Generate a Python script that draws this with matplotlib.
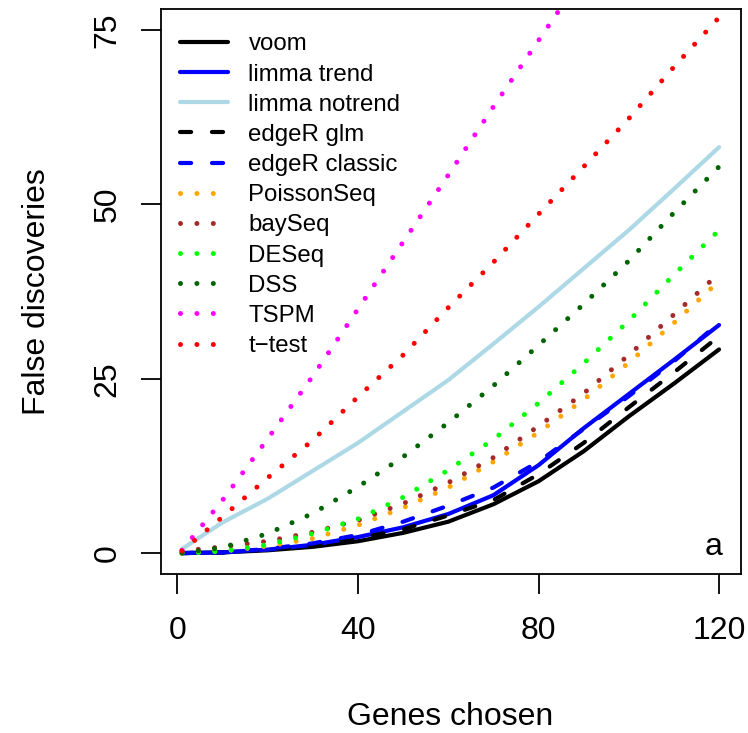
import numpy as np
import matplotlib
matplotlib.use("Agg")
import matplotlib.pyplot as plt

plt.rcParams['font.family'] = ['Liberation Sans', 'DejaVu Sans']
plt.rcParams['lines.scale_dashes'] = False

# number of genes chosen (x) and cumulative false discoveries per method
genes = [1, 10, 20, 30, 40, 50, 60, 70, 80, 90, 100, 110, 120]

voom           = [0.0, 0.1, 0.4, 0.9, 1.7, 2.9, 4.5, 7.0, 10.3, 14.6, 19.6, 24.3, 29.2]
limma_trend    = [0.0, 0.1, 0.5, 1.2, 2.3, 3.7, 5.6, 8.3, 12.6, 17.9, 22.8, 27.7, 32.7]
limma_notrend  = [0.6, 4.4, 7.8, 11.8, 15.8, 20.3, 24.8, 30.0, 35.3, 40.8, 46.3, 52.2, 58.2]
edger_glm      = [0.0, 0.1, 0.5, 1.1, 2.1, 3.4, 5.4, 7.6, 11.3, 15.8, 20.9, 25.9, 31.1]
edger_classic  = [0.0, 0.1, 0.6, 1.4, 2.6, 4.5, 6.8, 9.4, 13.1, 17.8, 22.5, 27.5, 33.0]
poissonseq     = [0.0, 0.3, 1.0, 2.1, 4.0, 6.5, 9.4, 13.1, 17.3, 22.0, 27.3, 33.0, 39.0]
bayseq         = [0.3, 0.9, 1.7, 3.0, 4.7, 7.1, 10.1, 13.7, 18.2, 22.9, 28.4, 34.2, 40.1]
deseq          = [0.0, 0.25, 1.2, 2.8, 4.9, 8.0, 11.9, 16.3, 21.5, 27.2, 33.3, 39.9, 46.3]
dss            = [0.0, 0.8, 2.8, 5.7, 9.5, 13.8, 18.7, 24.0, 29.8, 35.7, 41.9, 48.8, 55.4]
tspm           = [0.4, 7.6, 16.4, 25.4, 35.0, 44.6, 54.2, 64.0, 73.5, 83.0]
ttest          = [0.3, 5.2, 10.8, 16.2, 22.4, 28.4, 35.2, 41.7, 48.6, 55.4, 62.3, 69.7, 76.8]

labels = ["voom", "limma trend", "limma notrend", "edgeR glm", "edgeR classic",
          "PoissonSeq", "baySeq", "DESeq", "DSS", "TSPM", "t\u2212test"]
series = [voom, limma_trend, limma_notrend, edger_glm, edger_classic,
          poissonseq, bayseq, deseq, dss, tspm, ttest]
colors = ["black", "blue", "lightblue", "black", "blue",
          "orange", "brown", "lime", "darkgreen", "magenta", "red"]
kinds = ["solid", "solid", "solid", "dash", "dash",
         "dot", "dot", "dot", "dot", "dot", "dot"]

fig = plt.figure(figsize=(7.48, 7.33), dpi=100)
ax = fig.add_axes([0.2146, 0.2169, 0.7754, 0.7707])

for lab, ys, col, kind in zip(labels, series, colors, kinds):
    xs = genes[:len(ys)]
    if kind == "solid":
        ax.plot(xs, ys, color=col, lw=3.0, solid_capstyle='round',
                solid_joinstyle='round', label=lab)
    elif kind == "dash":
        ax.plot(xs, ys, color=col, lw=3.0, linestyle=(0, (8, 15)),
                dash_capstyle='round', label=lab)
    else:
        ax.plot(xs, ys, color=col, lw=3.6, linestyle=(0, (0.01, 11.8)),
                dash_capstyle='round', label=lab)

ax.set_xlim(1 - 0.04 * 119, 120 + 0.04 * 119)
ax.set_ylim(-3, 78)
ax.set_xticks([0, 40, 80, 120])
ax.set_yticks([0, 25, 50, 75])

for sp in ax.spines.values():
    sp.set_linewidth(1.3)
ax.tick_params(length=14.5, width=1.3, labelsize=23)
ax.tick_params(axis='x', pad=16)
ax.tick_params(axis='y', pad=13, labelrotation=90)
for t in ax.get_yticklabels():
    t.set_va('center')

ax.set_xlabel("Genes chosen", fontsize=23)
ax.set_ylabel("False discoveries", fontsize=23)
ax.xaxis.set_label_coords(0.5, -0.253)
ax.xaxis.label.set_va('center')
ax.yaxis.set_label_coords(-0.213, 0.5)
ax.yaxis.label.set_va('center')

ax.text(0.954, 0.048, "a", transform=ax.transAxes, fontsize=23,
        ha='center', va='center')

ax.legend(loc='upper left', bbox_to_anchor=(0.0336, 0.957), frameon=False,
          fontsize=17.3, handlelength=2.0, handletextpad=0.85,
          labelspacing=0.34, borderpad=0, borderaxespad=0)

fig.savefig("out.png", dpi=100)
